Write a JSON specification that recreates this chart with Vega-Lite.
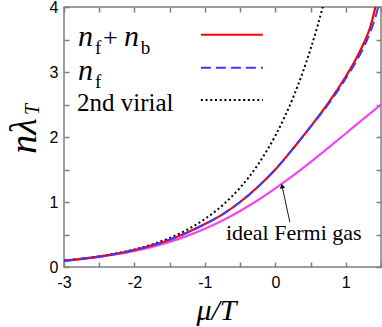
{
  "$schema": "https://vega.github.io/schema/vega-lite/v6.json",
  "width": 317,
  "height": 260,
  "autosize": "none",
  "padding": {"left": 64, "top": 7, "right": 1, "bottom": 60},
  "background": "white",
  "data": {"values": [{}]},
  "config": {
    "view": {"stroke": "#7f7f7f", "strokeWidth": 1.5},
    "axis": {
      "grid": false,
      "domain": false,
      "ticks": true,
      "tickColor": "#7f7f7f",
      "tickWidth": 1.5,
      "tickSize": 5,
      "offset": -5,
      "labelFont": "Liberation Sans, Arial, Helvetica, sans-serif",
      "labelFontSize": 16,
      "labelColor": "#000000",
      "labelFlush": false,
      "labelOverlap": false
    }
  },
  "datasets": {
    "ideal": [
      {"mu": -3, "v": 0.0962}, {"mu": -2.75, "v": 0.1224}, {"mu": -2.5, "v": 0.1552},
      {"mu": -2.25, "v": 0.1963}, {"mu": -2, "v": 0.2473}, {"mu": -1.75, "v": 0.3101},
      {"mu": -1.5, "v": 0.3866}, {"mu": -1.25, "v": 0.4787}, {"mu": -1, "v": 0.5881},
      {"mu": -0.75, "v": 0.7158}, {"mu": -0.5, "v": 0.8625}, {"mu": -0.25, "v": 1.0274},
      {"mu": 0, "v": 1.2098}, {"mu": 0.25, "v": 1.405}, {"mu": 0.5, "v": 1.615},
      {"mu": 0.75, "v": 1.833}, {"mu": 1, "v": 2.054}, {"mu": 1.25, "v": 2.278},
      {"mu": 1.5, "v": 2.499}
    ],
    "virial": [
      {"mu": -3, "v": 0.0996}, {"mu": -2.75, "v": 0.1279}, {"mu": -2.5, "v": 0.1643},
      {"mu": -2.25, "v": 0.211}, {"mu": -2, "v": 0.2711}, {"mu": -1.75, "v": 0.3481},
      {"mu": -1.5, "v": 0.4473}, {"mu": -1.25, "v": 0.5746}, {"mu": -1, "v": 0.7385},
      {"mu": -0.75, "v": 0.9492}, {"mu": -0.5, "v": 1.2204}, {"mu": -0.25, "v": 1.5697},
      {"mu": 0, "v": 2.02}, {"mu": 0.125, "v": 2.292}, {"mu": 0.25, "v": 2.601},
      {"mu": 0.375, "v": 2.952}, {"mu": 0.5, "v": 3.352}, {"mu": 0.6, "v": 3.711},
      {"mu": 0.7, "v": 4.109}
    ],
    "fb": [
      {"mu": -3, "v": 0.098}, {"mu": -2.75, "v": 0.126}, {"mu": -2.5, "v": 0.16},
      {"mu": -2.25, "v": 0.205}, {"mu": -2, "v": 0.262}, {"mu": -1.75, "v": 0.333},
      {"mu": -1.5, "v": 0.42}, {"mu": -1.25, "v": 0.53}, {"mu": -1, "v": 0.66},
      {"mu": -0.75, "v": 0.81}, {"mu": -0.5, "v": 1.0}, {"mu": -0.25, "v": 1.23},
      {"mu": 0, "v": 1.5}, {"mu": 0.25, "v": 1.82}, {"mu": 0.5, "v": 2.16},
      {"mu": 0.75, "v": 2.52}, {"mu": 1, "v": 2.93}, {"mu": 1.125, "v": 3.16},
      {"mu": 1.25, "v": 3.43}, {"mu": 1.35, "v": 3.7}, {"mu": 1.42, "v": 4.0},
      {"mu": 1.45, "v": 4.15}
    ],
    "f": [
      {"mu": -3, "v": 0.098}, {"mu": -2.75, "v": 0.126}, {"mu": -2.5, "v": 0.16},
      {"mu": -2.25, "v": 0.205}, {"mu": -2, "v": 0.262}, {"mu": -1.75, "v": 0.333},
      {"mu": -1.5, "v": 0.42}, {"mu": -1.25, "v": 0.53}, {"mu": -1, "v": 0.66},
      {"mu": -0.75, "v": 0.81}, {"mu": -0.5, "v": 1.0}, {"mu": -0.25, "v": 1.23},
      {"mu": 0, "v": 1.5}, {"mu": 0.25, "v": 1.82}, {"mu": 0.5, "v": 2.155},
      {"mu": 0.75, "v": 2.5}, {"mu": 1, "v": 2.9}, {"mu": 1.125, "v": 3.12},
      {"mu": 1.25, "v": 3.37}, {"mu": 1.35, "v": 3.62}, {"mu": 1.42, "v": 3.84},
      {"mu": 1.46, "v": 4.0}, {"mu": 1.5, "v": 4.2}
    ]
  },
  "resolve": {"axis": {"x": "independent", "y": "independent"}},
  "layer": [
    {
      "data": {"name": "ideal"},
      "mark": {"type": "line", "color": "#f046f0", "strokeWidth": 2.2, "clip": true, "interpolate": "monotone"},
      "encoding": {
        "x": {"field": "mu", "type": "quantitative",
          "scale": {"domain": [-3, 1.5], "nice": false, "zero": false},
          "axis": {"orient": "bottom", "values": [-3, -2.5, -2, -1.5, -1, -0.5, 0, 0.5, 1, 1.5],
            "labelExpr": "datum.value % 1 == 0 ? '' + datum.value : ''",
            "labelPadding": 7,
            "title": "μ/T", "titleFont": "Liberation Serif, Times New Roman, Times, DejaVu Serif, serif", "titleFontStyle": "italic",
            "titleFontWeight": "normal", "titleFontSize": 30, "titleColor": "#000000", "titlePadding": 5, "titleX": 152}},
        "y": {"field": "v", "type": "quantitative",
          "scale": {"domain": [0, 4], "nice": false, "zero": false},
          "axis": {"orient": "left", "values": [0, 0.5, 1, 1.5, 2, 2.5, 3, 3.5, 4],
            "labelExpr": "datum.value % 1 == 0 ? '' + datum.value : ''",
            "labelPadding": 6, "title": null}}
      }
    },
    {
      "data": {"name": "ideal"},
      "mark": {"type": "point", "opacity": 0},
      "encoding": {
        "x": {"field": "mu", "type": "quantitative",
          "scale": {"domain": [-3, 1.5], "nice": false, "zero": false},
          "axis": {"orient": "top", "values": [-3, -2.5, -2, -1.5, -1, -0.5, 0, 0.5, 1, 1.5],
            "labels": false, "title": null}},
        "y": {"field": "v", "type": "quantitative",
          "scale": {"domain": [0, 4], "nice": false, "zero": false},
          "axis": {"orient": "right", "values": [0, 0.5, 1, 1.5, 2, 2.5, 3, 3.5, 4],
            "labels": false, "title": null}}
      }
    },
    {
      "data": {"name": "virial"},
      "mark": {"type": "line", "color": "#000000", "strokeWidth": 2, "strokeDash": [2, 2.7], "clip": true, "interpolate": "monotone"},
      "encoding": {
        "x": {"field": "mu", "type": "quantitative", "scale": {"domain": [-3, 1.5], "nice": false, "zero": false}, "axis": null},
        "y": {"field": "v", "type": "quantitative", "scale": {"domain": [0, 4], "nice": false, "zero": false}, "axis": null}
      }
    },
    {
      "data": {"name": "fb"},
      "mark": {"type": "line", "color": "#ff0000", "strokeWidth": 2.2, "clip": true, "interpolate": "monotone"},
      "encoding": {
        "x": {"field": "mu", "type": "quantitative", "scale": {"domain": [-3, 1.5], "nice": false, "zero": false}, "axis": null},
        "y": {"field": "v", "type": "quantitative", "scale": {"domain": [0, 4], "nice": false, "zero": false}, "axis": null}
      }
    },
    {
      "data": {"name": "f"},
      "mark": {"type": "line", "color": "#3a3aff", "strokeWidth": 2, "strokeDash": [10, 5], "clip": true, "interpolate": "monotone"},
      "encoding": {
        "x": {"field": "mu", "type": "quantitative", "scale": {"domain": [-3, 1.5], "nice": false, "zero": false}, "axis": null},
        "y": {"field": "v", "type": "quantitative", "scale": {"domain": [0, 4], "nice": false, "zero": false}, "axis": null}
      }
    },
    {
      "mark": {"type": "rule", "color": "#ff0000", "strokeWidth": 2.2},
      "encoding": {
        "x": {"datum": -1.057, "type": "quantitative", "scale": {"domain": [-3, 1.5], "nice": false, "zero": false}, "axis": null},
        "x2": {"datum": -0.177},
        "y": {"datum": 3.573, "type": "quantitative", "scale": {"domain": [0, 4], "nice": false, "zero": false}, "axis": null}
      }
    },
    {
      "mark": {"type": "rule", "color": "#3a3aff", "strokeWidth": 2, "strokeDash": [10, 5]},
      "encoding": {
        "x": {"datum": -1.057, "type": "quantitative", "scale": {"domain": [-3, 1.5], "nice": false, "zero": false}, "axis": null},
        "x2": {"datum": -0.177},
        "y": {"datum": 3.064, "type": "quantitative", "scale": {"domain": [0, 4], "nice": false, "zero": false}, "axis": null}
      }
    },
    {
      "mark": {"type": "rule", "color": "#000000", "strokeWidth": 2, "strokeDash": [2, 2.7]},
      "encoding": {
        "x": {"datum": -1.057, "type": "quantitative", "scale": {"domain": [-3, 1.5], "nice": false, "zero": false}, "axis": null},
        "x2": {"datum": -0.177},
        "y": {"datum": 2.57, "type": "quantitative", "scale": {"domain": [0, 4], "nice": false, "zero": false}, "axis": null}
      }
    },
    {
      "mark": {"type": "text", "text": "n", "font": "Liberation Serif, Times New Roman, Times, DejaVu Serif, serif", "fontStyle": "italic", "fontSize": 30, "align": "left", "baseline": "alphabetic", "color": "#000000"},
      "encoding": {
        "x": {"datum": -2.801, "type": "quantitative", "scale": {"domain": [-3, 1.5], "nice": false, "zero": false}, "axis": null},
        "y": {"datum": 3.403, "type": "quantitative", "scale": {"domain": [0, 4], "nice": false, "zero": false}, "axis": null}
      }
    },
    {
      "mark": {"type": "text", "text": "f", "font": "Liberation Serif, Times New Roman, Times, DejaVu Serif, serif", "fontSize": 19, "align": "left", "baseline": "alphabetic", "color": "#000000"},
      "encoding": {
        "x": {"datum": -2.56, "type": "quantitative", "scale": {"domain": [-3, 1.5], "nice": false, "zero": false}, "axis": null},
        "y": {"datum": 3.28, "type": "quantitative", "scale": {"domain": [0, 4], "nice": false, "zero": false}, "axis": null}
      }
    },
    {
      "mark": {"type": "text", "text": "+", "font": "Liberation Serif, Times New Roman, Times, DejaVu Serif, serif", "fontSize": 26, "align": "left", "baseline": "alphabetic", "color": "#000000"},
      "encoding": {
        "x": {"datum": -2.447, "type": "quantitative", "scale": {"domain": [-3, 1.5], "nice": false, "zero": false}, "axis": null},
        "y": {"datum": 3.403, "type": "quantitative", "scale": {"domain": [0, 4], "nice": false, "zero": false}, "axis": null}
      }
    },
    {
      "mark": {"type": "text", "text": "n", "font": "Liberation Serif, Times New Roman, Times, DejaVu Serif, serif", "fontStyle": "italic", "fontSize": 30, "align": "left", "baseline": "alphabetic", "color": "#000000"},
      "encoding": {
        "x": {"datum": -2.15, "type": "quantitative", "scale": {"domain": [-3, 1.5], "nice": false, "zero": false}, "axis": null},
        "y": {"datum": 3.403, "type": "quantitative", "scale": {"domain": [0, 4], "nice": false, "zero": false}, "axis": null}
      }
    },
    {
      "mark": {"type": "text", "text": "b", "font": "Liberation Serif, Times New Roman, Times, DejaVu Serif, serif", "fontSize": 19, "align": "left", "baseline": "alphabetic", "color": "#000000"},
      "encoding": {
        "x": {"datum": -1.91, "type": "quantitative", "scale": {"domain": [-3, 1.5], "nice": false, "zero": false}, "axis": null},
        "y": {"datum": 3.28, "type": "quantitative", "scale": {"domain": [0, 4], "nice": false, "zero": false}, "axis": null}
      }
    },
    {
      "mark": {"type": "text", "text": "n", "font": "Liberation Serif, Times New Roman, Times, DejaVu Serif, serif", "fontStyle": "italic", "fontSize": 30, "align": "left", "baseline": "alphabetic", "color": "#000000"},
      "encoding": {
        "x": {"datum": -2.801, "type": "quantitative", "scale": {"domain": [-3, 1.5], "nice": false, "zero": false}, "axis": null},
        "y": {"datum": 2.879, "type": "quantitative", "scale": {"domain": [0, 4], "nice": false, "zero": false}, "axis": null}
      }
    },
    {
      "mark": {"type": "text", "text": "f", "font": "Liberation Serif, Times New Roman, Times, DejaVu Serif, serif", "fontSize": 19, "align": "left", "baseline": "alphabetic", "color": "#000000"},
      "encoding": {
        "x": {"datum": -2.56, "type": "quantitative", "scale": {"domain": [-3, 1.5], "nice": false, "zero": false}, "axis": null},
        "y": {"datum": 2.756, "type": "quantitative", "scale": {"domain": [0, 4], "nice": false, "zero": false}, "axis": null}
      }
    },
    {
      "mark": {"type": "text", "text": "2nd virial", "font": "Liberation Serif, Times New Roman, Times, DejaVu Serif, serif", "fontSize": 25, "align": "left", "baseline": "alphabetic", "color": "#000000"},
      "encoding": {
        "x": {"datum": -2.816, "type": "quantitative", "scale": {"domain": [-3, 1.5], "nice": false, "zero": false}, "axis": null},
        "y": {"datum": 2.401, "type": "quantitative", "scale": {"domain": [0, 4], "nice": false, "zero": false}, "axis": null}
      }
    },
    {
      "mark": {"type": "text", "text": "ideal Fermi gas", "font": "Liberation Serif, Times New Roman, Times, DejaVu Serif, serif", "fontSize": 22, "align": "center", "baseline": "alphabetic", "color": "#000000"},
      "encoding": {
        "x": {"datum": 0.262, "type": "quantitative", "scale": {"domain": [-3, 1.5], "nice": false, "zero": false}, "axis": null},
        "y": {"datum": 0.41, "type": "quantitative", "scale": {"domain": [0, 4], "nice": false, "zero": false}, "axis": null}
      }
    },
    {
      "mark": {"type": "rule", "color": "#000000", "strokeWidth": 0.9},
      "encoding": {
        "x": {"datum": 0.206, "type": "quantitative", "scale": {"domain": [-3, 1.5], "nice": false, "zero": false}, "axis": null},
        "x2": {"datum": 0.097},
        "y": {"datum": 0.689, "type": "quantitative", "scale": {"domain": [0, 4], "nice": false, "zero": false}, "axis": null},
        "y2": {"datum": 1.24}
      }
    },
    {
      "mark": {"type": "point", "shape": "triangle-up", "filled": true, "color": "#000000", "opacity": 1, "size": 28, "angle": -12},
      "encoding": {
        "x": {"datum": 0.095, "type": "quantitative", "scale": {"domain": [-3, 1.5], "nice": false, "zero": false}, "axis": null},
        "y": {"datum": 1.245, "type": "quantitative", "scale": {"domain": [0, 4], "nice": false, "zero": false}, "axis": null}
      }
    },
    {
      "mark": {"type": "text", "text": "nλ", "font": "Liberation Serif, Times New Roman, Times, DejaVu Serif, serif", "fontStyle": "italic", "fontSize": 38, "align": "center", "baseline": "alphabetic", "angle": 270, "color": "#000000"},
      "encoding": {
        "x": {"datum": -3.397, "type": "quantitative", "scale": {"domain": [-3, 1.5], "nice": false, "zero": false}, "axis": null},
        "y": {"datum": 2.015, "type": "quantitative", "scale": {"domain": [0, 4], "nice": false, "zero": false}, "axis": null}
      }
    },
    {
      "mark": {"type": "text", "text": "T", "font": "Liberation Serif, Times New Roman, Times, DejaVu Serif, serif", "fontStyle": "italic", "fontSize": 20, "align": "left", "baseline": "alphabetic", "angle": 270, "color": "#000000"},
      "encoding": {
        "x": {"datum": -3.355, "type": "quantitative", "scale": {"domain": [-3, 1.5], "nice": false, "zero": false}, "axis": null},
        "y": {"datum": 2.34, "type": "quantitative", "scale": {"domain": [0, 4], "nice": false, "zero": false}, "axis": null}
      }
    }
  ]
}
